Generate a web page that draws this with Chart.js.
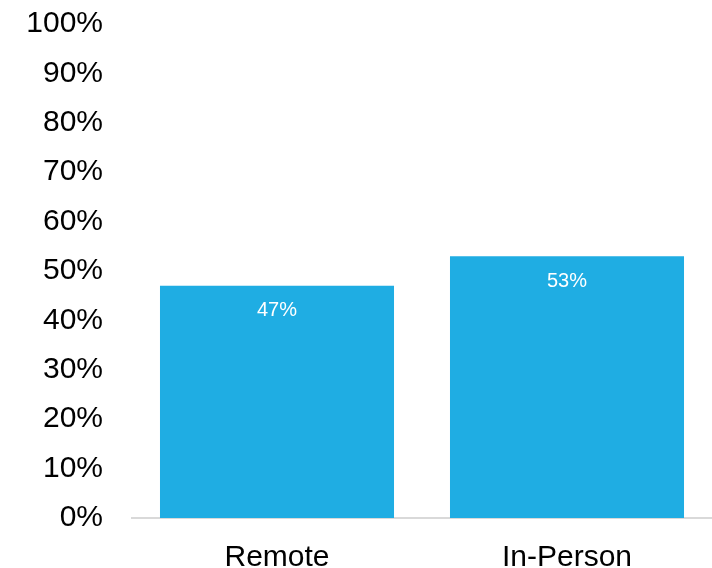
<!DOCTYPE html>
<html>
<head>
<meta charset="utf-8">
<script src="https://cdn.jsdelivr.net/npm/chart.js@4.4.1/dist/chart.umd.min.js"></script>
<style>
  html, body { margin: 0; padding: 0; background: #fff; }
  #wrap { width: 712px; height: 568px; }
</style>
</head>
<body>
<div id="wrap"><canvas id="bar-chart"></canvas></div>
<script>
var categories = ['Remote', 'In-Person'];
var shares = [47, 53];
var yTicks = [0, 10, 20, 30, 40, 50, 60, 70, 80, 90, 100];

// white % labels just inside the top of each bar
var barLabels = {
	id: 'barLabels',
	afterDatasetsDraw: function(chart) {
		var ctx = chart.ctx;
		var meta = chart.getDatasetMeta(0);
		ctx.save();
		ctx.fillStyle = '#ffffff';
		ctx.font = '20px "Liberation Sans", Arial, sans-serif';
		ctx.textAlign = 'center';
		ctx.textBaseline = 'middle';
		meta.data.forEach(function(bar, i) {
			ctx.fillText(shares[i] + '%', bar.x, bar.y + 25);
		});
		ctx.restore();
	}
};

var barctx = document.getElementById('bar-chart');
var barChart = new Chart(barctx, {
	type: 'bar',
	data: {
		labels: categories,
		datasets: [{
			data: shares,
			backgroundColor: '#1FADE3',
			borderWidth: 0,
			barPercentage: 0.807,
			categoryPercentage: 1
		}]
	},
	options: {
		responsive: true,
		maintainAspectRatio: false,
		animation: false,
		layout: { padding: { top: 24, right: 0, bottom: 0, left: 0 } },
		plugins: {
			legend: { display: false },
			tooltip: { enabled: false }
		},
		scales: {
			x: {
				grid: { display: false, drawTicks: false },
				border: { display: true, color: '#d9d9d9', width: 2 },
				ticks: {
					color: '#000',
					padding: 22,
					font: { family: '"Liberation Sans", Arial, sans-serif', size: 30 }
				},
				afterFit: function(scale) {
					scale.height = 50;
					scale.paddingLeft = 0;
					scale.paddingRight = 0;
				}
			},
			y: {
				min: 0,
				max: 100,
				afterBuildTicks: function(scale) {
					scale.ticks = yTicks.map(function(v) { return { value: v }; });
				},
				grid: { display: false, drawTicks: false },
				border: { display: false },
				ticks: {
					color: '#000',
					padding: 29,
					font: { family: '"Liberation Sans", Arial, sans-serif', size: 30 },
					callback: function(v) { return v + '%'; }
				},
				afterFit: function(scale) {
					scale.width = 132;
					scale.paddingTop = 0;
					scale.paddingBottom = 0;
				}
			}
		}
	},
	plugins: [barLabels]
});
</script>
</body>
</html>
